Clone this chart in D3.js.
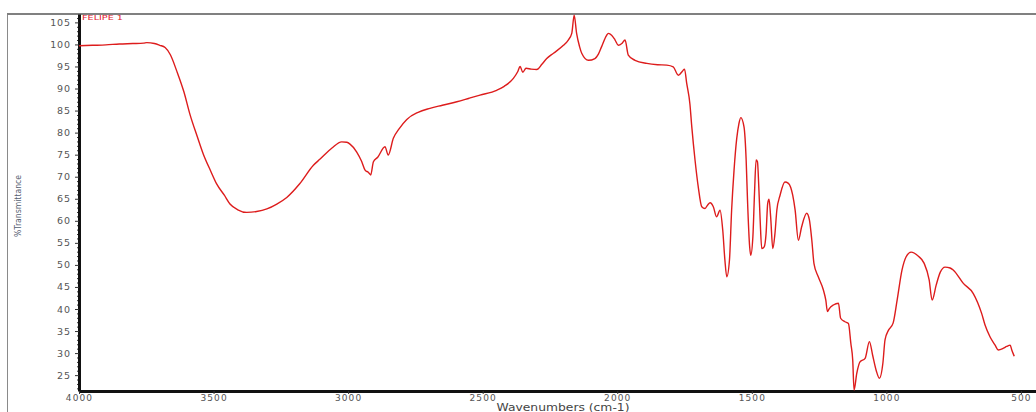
<!DOCTYPE html>
<html>
<head>
<meta charset="utf-8">
<script src="https://cdn.jsdelivr.net/npm/d3@7"></script>
<style>
  html, body { margin: 0; padding: 0; background: #fff; }
  svg { display: block; }
</style>
</head>
<body>
<svg id="chart" width="1036" height="412"></svg>
<script>
// IR spectrum of sample "FELIPE 1": wavenumber (cm-1) vs. %Transmittance
const wavenumbers = [
  4000, 3950, 3900, 3850, 3800, 3760, 3748, 3720, 3700, 3680, 3660, 3637, 3610, 3588, 3560, 3538,
  3510, 3488, 3460, 3439, 3410, 3377, 3340, 3302, 3265, 3228, 3180, 3129, 3104, 3060, 3024, 3005,
  2993, 2968, 2950, 2937, 2925, 2916, 2906, 2890, 2863, 2851, 2832, 2810, 2782, 2740, 2696, 2650,
  2596, 2550, 2510, 2448, 2420, 2386, 2370, 2361, 2351, 2339, 2320, 2299, 2280, 2262, 2237, 2200,
  2182, 2169, 2160, 2151, 2140, 2132, 2107, 2083, 2070, 2058, 2040, 2033, 2021, 2008, 1996, 1983,
  1971, 1959, 1934, 1890, 1850, 1816, 1792, 1773, 1757, 1750, 1742, 1730, 1723, 1711, 1699, 1686,
  1674, 1664, 1655, 1643, 1631, 1618, 1608, 1600, 1593, 1583, 1575, 1566, 1556, 1548, 1541, 1529,
  1521, 1516, 1508, 1504, 1496, 1490, 1484, 1479, 1474, 1469, 1463, 1454, 1447, 1441, 1436, 1430,
  1422, 1414, 1407, 1395, 1377, 1364, 1348, 1339, 1327, 1315, 1296, 1286, 1277, 1269, 1253, 1234,
  1225, 1219, 1212, 1197, 1178, 1170, 1154, 1141, 1132, 1125, 1120, 1110, 1098, 1079, 1063, 1051,
  1038, 1026, 1013, 1005, 992, 975, 960, 942, 927, 908, 882, 860, 841, 830, 815, 800,
  782, 763, 751, 714, 677, 646, 633, 615, 596, 584, 565, 553, 540, 534, 525
];
const transmittance = [
  99.7, 99.8, 99.9, 100.1, 100.2, 100.3, 100.4, 100.2, 99.8, 99.3, 97.6, 94.0, 89.2, 84.2, 79.0, 75.1,
  71.2, 68.3, 65.8, 63.8, 62.5, 61.9, 62.1, 62.7, 63.8, 65.3, 68.4, 72.6, 74.0, 76.5, 77.9, 77.8,
  77.4, 75.6, 73.5, 71.5, 71.0, 70.4, 73.4, 74.4, 76.8, 74.9, 78.7, 80.9, 83.0, 84.6, 85.5, 86.2,
  87.0, 87.8, 88.5, 89.6, 90.5, 92.3, 93.8, 95.0, 93.7, 94.6, 94.4, 94.3, 95.5, 96.8, 98.0, 99.8,
  101.0, 102.5, 106.6, 102.5, 99.5, 98.0, 96.4, 96.8, 97.8, 99.5, 102.0, 102.5, 102.1, 101.0, 99.8, 100.2,
  101.0, 97.6, 96.4, 95.7, 95.4, 95.3, 94.9, 93.0, 94.0, 94.4, 91.2, 86.5, 81.3, 73.8, 67.7, 63.2,
  62.8, 63.6, 64.1, 63.2, 60.9, 62.4, 57.9, 51.1, 47.3, 51.1, 62.4, 71.5, 78.7, 82.0, 83.4, 81.3,
  73.8, 64.7, 54.1, 52.2, 56.4, 66.2, 73.8, 73.4, 67.7, 60.2, 53.7, 54.1, 57.1, 63.9, 64.9, 60.9,
  53.7, 57.1, 62.4, 65.8, 68.8, 68.5, 65.8, 62.4, 55.6, 58.6, 61.7, 60.2, 55.6, 50.3, 47.3, 44.3,
  42.0, 39.4, 40.1, 40.9, 41.3, 37.9, 37.1, 36.7, 32.2, 28.4, 21.6, 25.4, 28.0, 28.8, 32.6, 29.5,
  26.1, 24.3, 27.7, 33.0, 35.2, 36.8, 42.0, 48.8, 51.8, 52.9, 52.0, 50.4, 46.6, 42.0, 45.4, 48.3,
  49.5, 49.3, 48.8, 45.8, 43.5, 39.0, 36.3, 33.7, 31.8, 30.7, 31.1, 31.5, 31.8, 30.7, 29.3
];
const xTicks = [4000, 3500, 3000, 2500, 2000, 1500, 1000, 500];
const yTicks = [25, 30, 35, 40, 45, 50, 55, 60, 65, 70, 75, 80, 85, 90, 95, 100, 105];
const sampleName = "FELIPE 1";

const svg = d3.select("#chart");
const plotLeft = 79, plotRight = 1036, plotTop = 14, plotBottom = 391;

const x = d3.scaleLinear().domain([4000, 444]).range([plotLeft, plotRight]);
const y = d3.scaleLinear().domain([21.4, 106.9]).range([plotBottom, plotTop]);

// outer frame
svg.append("line").attr("x1", 7.5).attr("x2", 7.5).attr("y1", plotTop).attr("y2", 412)
  .attr("stroke", "#8a8a8a").attr("stroke-width", 1);
svg.append("line").attr("x1", 7).attr("x2", 1036).attr("y1", plotTop).attr("y2", plotTop)
  .attr("stroke", "#808080").attr("stroke-width", 2);

const tickFont = "'DejaVu Sans', Verdana, sans-serif";

// y axis: minor ticks every unit, major every 5
const minorY = d3.range(22, 107, 1).filter(v => v % 5 !== 0);
svg.append("g").attr("transform", `translate(${plotLeft},0)`)
  .call(d3.axisLeft(y).tickValues(minorY).tickSize(2).tickFormat(""))
  .call(g => g.select(".domain").remove())
  .call(g => g.selectAll("line").attr("stroke", "#333"));

const yAxis = svg.append("g").attr("transform", `translate(${plotLeft},0)`)
  .call(d3.axisLeft(y).tickValues(yTicks).tickSize(4).tickPadding(4).tickSizeOuter(0)
    .tickFormat(d3.format("d")));
yAxis.select(".domain").attr("stroke", "#111").attr("stroke-width", 3);
yAxis.selectAll(".tick line").attr("stroke", "#333");
yAxis.selectAll(".tick text")
  .attr("font-family", tickFont).attr("font-size", 9.5).attr("letter-spacing", 0.9)
  .attr("fill", "#555");

// x axis
const xAxis = svg.append("g").attr("transform", `translate(0,${plotBottom})`)
  .call(d3.axisBottom(x).tickValues(xTicks).tickSize(3).tickPadding(1).tickSizeOuter(0)
    .tickFormat(d3.format("d")));
xAxis.select(".domain").attr("stroke", "#111").attr("stroke-width", 3);
xAxis.selectAll(".tick line").attr("stroke", "#333");
xAxis.selectAll(".tick text")
  .attr("font-family", tickFont).attr("font-size", 9).attr("letter-spacing", 1.1)
  .attr("fill", "#555");

// axis titles
svg.append("text")
  .attr("transform", "translate(21,206) rotate(-90)")
  .attr("text-anchor", "middle")
  .attr("font-family", tickFont).attr("font-size", 8)
  .attr("textLength", 62).attr("lengthAdjust", "spacingAndGlyphs")
  .attr("fill", "#556070")
  .text("%Transmittance");

svg.append("text")
  .attr("x", 563).attr("y", 411)
  .attr("text-anchor", "middle")
  .attr("font-family", tickFont).attr("font-size", 10)
  .attr("textLength", 133).attr("lengthAdjust", "spacingAndGlyphs")
  .attr("fill", "#444")
  .text("Wavenumbers (cm-1)");

// sample label
svg.append("text")
  .attr("x", 82).attr("y", 20)
  .attr("font-family", tickFont).attr("font-size", 7)
  .attr("textLength", 41).attr("lengthAdjust", "spacingAndGlyphs")
  .attr("fill", "#e2202e")
  .text(sampleName);

// spectrum trace
svg.append("clipPath").attr("id", "plot-clip")
  .append("rect").attr("x", plotLeft).attr("y", plotTop)
  .attr("width", plotRight - plotLeft).attr("height", plotBottom - plotTop);

const points = wavenumbers.map((w, i) => [w, transmittance[i]]);
const line = d3.line().x(d => x(d[0])).y(d => y(d[1])).curve(d3.curveMonotoneX);

svg.append("path")
  .datum(points)
  .attr("clip-path", "url(#plot-clip)")
  .attr("fill", "none")
  .attr("stroke", "#dd1c1c")
  .attr("stroke-width", 1.4)
  .attr("stroke-linejoin", "round")
  .attr("d", line);
</script>
</body>
</html>
